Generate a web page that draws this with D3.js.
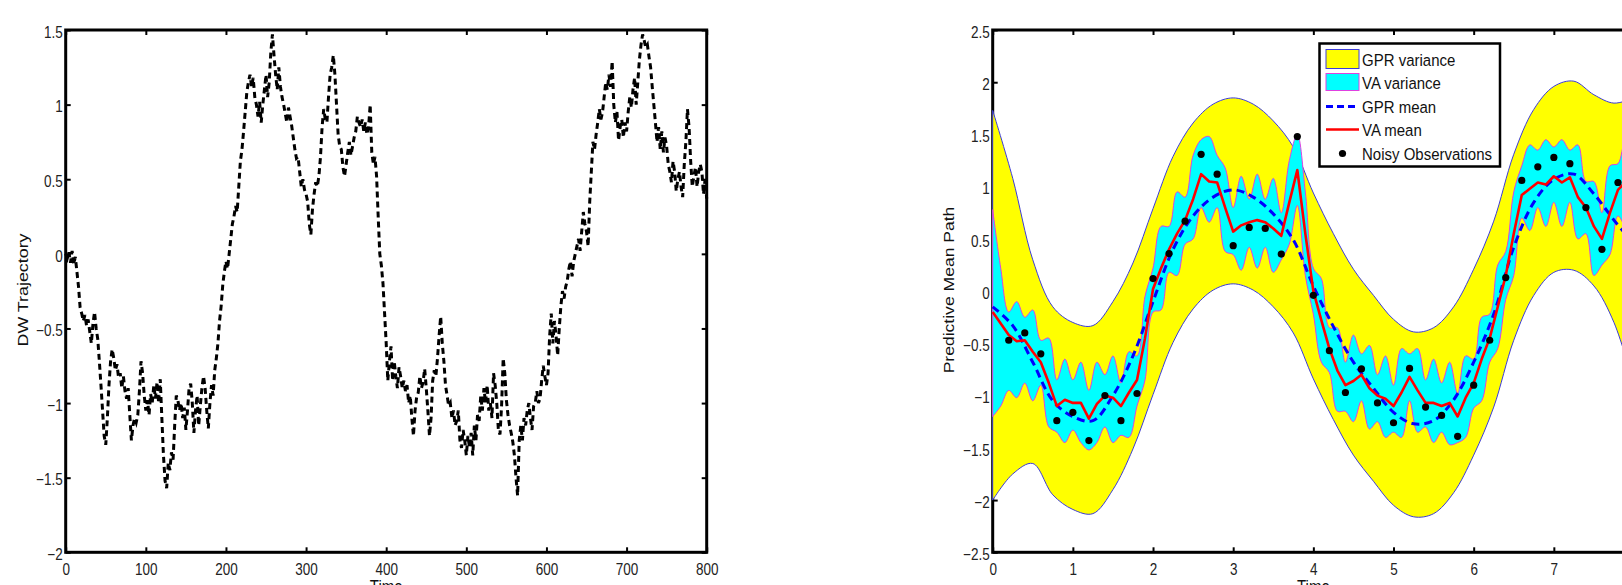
<!DOCTYPE html>
<html>
<head>
<meta charset="utf-8">
<script src="https://cdn.jsdelivr.net/npm/d3@7"></script>
<style>
  body { margin: 0; background: #fff; overflow: hidden; }
  svg { display: block; }
</style>
</head>
<body>
<svg></svg>
<script>
// ---------- left panel: DW trajectory (one value every 2 time units) ----------
const dwStep = 2;
const dwValues = [
  0.00, -0.03, 0.01, -0.06, 0.02, -0.07, -0.02, -0.12, -0.22, -0.36,
  -0.40, -0.45, -0.41, -0.48, -0.44, -0.52, -0.60, -0.47, -0.39, -0.50,
  -0.57, -0.72, -0.88, -1.05, -1.22, -1.28, -1.10, -0.88, -0.72, -0.64,
  -0.70, -0.78, -0.74, -0.83, -0.80, -0.90, -0.82, -0.92, -0.97, -0.90,
  -1.08, -1.25, -1.15, -1.10, -1.13, -1.08, -0.92, -0.72, -0.80, -0.95,
  -1.05, -0.98, -1.08, -0.94, -1.00, -0.88, -0.97, -0.86, -1.00, -0.84,
  -1.10, -1.35, -1.52, -1.57, -1.40, -1.45, -1.33, -1.38, -1.15, -0.95,
  -0.98, -1.05, -1.00, -1.10, -1.03, -1.18, -1.05, -0.90, -0.87, -1.00,
  -1.20, -1.05, -0.95, -1.15, -1.02, -0.90, -0.82, -0.90, -1.05, -1.17,
  -1.00, -0.88, -0.95, -0.78, -0.70, -0.60, -0.45, -0.35, -0.21, -0.12,
  -0.05, -0.10, 0.00, 0.10, 0.20, 0.25, 0.32, 0.28, 0.45, 0.62,
  0.70, 0.82, 0.95, 1.08, 1.15, 1.20, 1.12, 1.18, 1.05, 1.00,
  0.92, 1.02, 0.88, 1.00, 1.10, 1.20, 1.05, 1.15, 1.35, 1.47,
  1.33, 1.20, 1.10, 1.25, 1.12, 1.05, 1.00, 0.94, 0.88, 0.98,
  0.92, 0.86, 0.78, 0.70, 0.64, 0.65, 0.55, 0.45, 0.50, 0.43,
  0.40, 0.35, 0.20, 0.13, 0.30, 0.40, 0.48, 0.45, 0.52, 0.65,
  0.85, 0.97, 0.90, 0.88, 1.05, 1.20, 1.25, 1.33, 1.20, 1.00,
  0.80, 0.72, 0.70, 0.58, 0.52, 0.60, 0.68, 0.75, 0.66, 0.72,
  0.78, 0.82, 0.92, 0.88, 0.85, 0.90, 0.82, 0.88, 0.80, 0.85,
  1.00, 0.68, 0.60, 0.65, 0.52, 0.25, 0.00, -0.08, -0.20, -0.40,
  -0.60, -0.85, -0.72, -0.62, -0.85, -0.72, -0.82, -0.90, -0.76, -0.82,
  -0.90, -0.85, -0.92, -0.88, -1.00, -0.95, -1.10, -1.22, -1.05, -0.96,
  -0.93, -0.82, -0.90, -0.86, -0.77, -0.90, -1.05, -1.22, -1.10, -0.85,
  -0.78, -0.82, -0.70, -0.55, -0.42, -0.60, -0.72, -0.88, -0.95, -1.02,
  -1.00, -1.10, -1.05, -1.15, -1.12, -1.05, -1.25, -1.30, -1.18, -1.25,
  -1.35, -1.22, -1.30, -1.20, -1.35, -1.15, -1.25, -1.08, -1.12, -0.95,
  -1.05, -0.90, -1.00, -0.88, -1.05, -1.00, -1.10, -0.80, -0.88, -1.00,
  -1.18, -1.21, -1.02, -0.70, -0.80, -0.98, -1.08, -1.15, -1.20, -1.26,
  -1.35, -1.50, -1.62, -1.25, -1.15, -1.25, -1.10, -1.15, -1.05, -1.00,
  -1.10, -1.18, -1.02, -1.00, -0.92, -1.00, -0.97, -0.85, -0.75, -0.82,
  -0.88, -0.80, -0.55, -0.40, -0.60, -0.45, -0.55, -0.68, -0.50, -0.35,
  -0.25, -0.30, -0.22, -0.18, -0.10, -0.05, -0.15, -0.05, 0.00, 0.05,
  0.10, 0.02, 0.15, 0.28, 0.20, 0.15, 0.05, 0.35, 0.55, 0.75,
  0.70, 0.80, 0.88, 0.97, 0.90, 0.95, 1.05, 1.15, 1.10, 1.20,
  1.12, 1.29, 1.00, 0.88, 0.95, 0.76, 0.85, 0.90, 0.78, 0.88,
  0.82, 0.95, 1.05, 0.98, 1.10, 1.18, 1.00, 1.15, 1.30, 1.40,
  1.47, 1.43, 1.38, 1.40, 1.32, 1.25, 1.12, 1.00, 0.88, 0.75,
  0.85, 0.70, 0.82, 0.68, 0.78, 0.72, 0.60, 0.55, 0.48, 0.62,
  0.55, 0.42, 0.50, 0.55, 0.45, 0.38, 0.60, 0.75, 0.97, 0.85,
  0.62, 0.45, 0.52, 0.58, 0.45, 0.55, 0.60, 0.55, 0.40, 0.50,
  0.37
];
const dwXTicks = [0, 100, 200, 300, 400, 500, 600, 700, 800];
const dwYTicks = [-2, -1.5, -1, -0.5, 0, 0.5, 1, 1.5];

// ---------- right panel: GPR vs VA ----------
const gprStep = 0.25;
const gprMean  = [-0.15, -0.33, -0.68, -1.05, -1.20, -1.24, -1.00, -0.62, -0.10, 0.40, 0.72, 0.90, 0.97, 0.90, 0.74, 0.49, 0.05,
                  -0.34, -0.68, -0.93, -1.16, -1.27, -1.24, -1.04, -0.68, -0.22, 0.42, 0.85, 1.07, 1.12, 0.93, 0.68, 0.45];
const gprUpper = [1.73, 1.08, 0.30, -0.15, -0.30, -0.33, -0.10, 0.27, 0.79, 1.29, 1.61, 1.79, 1.85, 1.79, 1.63, 1.38, 0.94,
                  0.55, 0.21, -0.04, -0.27, -0.39, -0.35, -0.15, 0.21, 0.67, 1.31, 1.74, 1.96, 2.01, 1.88, 1.80, 1.85];
const gprLower = [-2.00, -1.75, -1.65, -1.95, -2.09, -2.13, -1.90, -1.51, -0.99, -0.49, -0.17, 0.01, 0.07, 0.01, -0.15, -0.40, -0.84,
                  -1.23, -1.57, -1.82, -2.05, -2.16, -2.13, -1.93, -1.57, -1.11, -0.47, -0.04, 0.18, 0.20, 0.05, -0.30, -0.90];

const vaStep = 0.1;
const vaMean = [
  -0.20, -0.31, -0.42, -0.48, -0.47, -0.58, -0.68, -0.88, -1.10, -1.04,
  -1.07, -1.07, -1.22, -1.08, -1.00, -1.02, -1.10, -0.97, -0.85, -0.45,
  0.02, 0.22, 0.40, 0.55, 0.68, 0.88, 1.12, 1.05, 1.04, 0.80,
  0.57, 0.63, 0.66, 0.68, 0.66, 0.60, 0.53, 0.85, 1.16, 0.55,
  0.00, -0.28, -0.55, -0.76, -0.90, -0.86, -0.80, -0.93, -1.00, -1.03,
  -1.10, -0.97, -0.82, -0.95, -1.07, -1.07, -1.10, -1.07, -1.20, -1.02,
  -0.88, -0.65, -0.45, -0.15, 0.15, 0.55, 0.92, 0.98, 1.04, 1.02,
  1.10, 1.04, 1.09, 0.90, 0.80, 0.62, 0.50, 0.75, 0.97, 1.05,
  1.05
];
const vaUpper = [
  0.78, 0.22, -0.20, -0.10, -0.25, -0.18, -0.47, -0.45, -0.85, -0.65,
  -0.85, -0.68, -0.95, -0.68, -0.80, -0.62, -0.88, -0.58, -0.62, -0.05,
  0.22, 0.62, 0.62, 0.95, 0.90, 1.30, 1.45, 1.48, 1.30, 1.18,
  0.80, 1.10, 0.88, 1.12, 0.88, 1.08, 0.75, 1.25, 1.50, 0.95,
  0.22, 0.12, -0.35, -0.35, -0.68, -0.42, -0.60, -0.52, -0.80, -0.62,
  -0.90, -0.55, -0.60, -0.55, -0.85, -0.65, -0.88, -0.68, -0.98, -0.62,
  -0.65, -0.25, -0.22, 0.25, 0.38, 0.95, 1.20, 1.40, 1.35, 1.45,
  1.38, 1.45, 1.35, 1.40, 1.05, 1.05, 0.75, 1.20, 1.22, 1.45,
  1.45
];
const vaLower = [
  -1.20, -1.10, -0.95, -1.02, -0.88, -1.05, -0.90, -1.30, -1.35, -1.45,
  -1.33, -1.45, -1.52, -1.45, -1.30, -1.45, -1.38, -1.40, -1.10, -0.85,
  -0.20, -0.18, 0.18, 0.15, 0.45, 0.50, 0.80, 0.66, 0.80, 0.38,
  0.35, 0.20, 0.42, 0.22, 0.42, 0.18, 0.30, 0.45, 0.82, 0.15,
  -0.22, -0.68, -0.78, -1.15, -1.15, -1.25, -1.05, -1.32, -1.25, -1.40,
  -1.35, -1.40, -1.05, -1.35, -1.30, -1.45, -1.35, -1.47, -1.45, -1.40,
  -1.12, -1.05, -0.68, -0.55, -0.08, 0.15, 0.70, 0.58, 0.80, 0.62,
  0.85, 0.62, 0.85, 0.50, 0.55, 0.15, 0.25, 0.35, 0.72, 0.62,
  0.65
];

const obsTime  = [0.2, 0.4, 0.6, 0.8, 1.0, 1.2, 1.4, 1.6, 1.8, 2.0, 2.2, 2.4, 2.6, 2.8, 3.0, 3.2, 3.4, 3.6, 3.8, 4.0,
                  4.2, 4.4, 4.6, 4.8, 5.0, 5.2, 5.4, 5.6, 5.8, 6.0, 6.2, 6.4, 6.6, 6.8, 7.0, 7.2, 7.4, 7.6, 7.8];
const obsValue = [-0.47, -0.40, -0.60, -1.24, -1.16, -1.43, -1.00, -1.24, -0.98, 0.12, 0.36, 0.67, 1.31, 1.12, 0.435, 0.61, 0.60, 0.355, 1.48, -0.04,
                  -0.57, -0.97, -0.745, -1.07, -1.26, -0.74, -1.11, -1.19, -1.39, -0.90, -0.47, 0.13, 1.06, 1.19, 1.28, 1.22, 0.80, 0.40, 1.04];

// x runs to 8, but the figure is cropped just before t = 8
const predXTicks = [0, 1, 2, 3, 4, 5, 6, 7];
const predYTicks = [-2.5, -2, -1.5, -1, -0.5, 0, 0.5, 1, 1.5, 2, 2.5];
const legendLabels = ["GPR variance", "VA variance", "GPR mean", "VA mean", "Noisy Observations"];

// ---------- drawing ----------
const FONT = "'Liberation Sans', Arial, Helvetica, sans-serif";
const svg = d3.select("svg").attr("width", 1622).attr("height", 585);

const fmt = v => (v < 0 ? "\u2212" : "") + Math.abs(v);

// MATLAB-like box with inward ticks on all four sides; drawn under the data
function drawAxes(x, y, xTicks, yTicks) {
  const [xa, xb] = x.range();
  const [yb, ya] = y.range();
  const g = svg.append("g");

  g.append("g").attr("transform", `translate(0,${yb})`)
    .call(d3.axisBottom(x).tickValues(xTicks).tickSize(-5).tickSizeOuter(0).tickPadding(9).tickFormat(fmt))
    .selectAll("text").attr("transform", "scale(1,1.2)");
  g.append("g").attr("transform", `translate(${xa},0)`)
    .call(d3.axisLeft(y).tickValues(yTicks).tickSize(-5).tickSizeOuter(0).tickPadding(3).tickFormat(fmt))
    .selectAll("text").attr("dy", "0.45em").attr("transform", "scale(1,1.2)");
  g.append("g").attr("transform", `translate(0,${ya})`)
    .call(d3.axisTop(x).tickValues(xTicks).tickSize(-5).tickSizeOuter(0).tickFormat(""));
  g.append("g").attr("transform", `translate(${xb},0)`)
    .call(d3.axisRight(y).tickValues(yTicks).tickSize(-5).tickSizeOuter(0).tickFormat(""));

  g.selectAll(".domain").remove();
  g.selectAll(".tick line").attr("stroke", "#000").attr("stroke-width", 2);
  g.selectAll(".tick text").attr("fill", "#222").attr("font-size", 13.5).attr("font-family", FONT);

  g.append("rect")
    .attr("x", xa).attr("y", ya).attr("width", xb - xa).attr("height", yb - ya)
    .attr("fill", "none").attr("stroke", "#000").attr("stroke-width", 3);
}

function stretchedText(txt, x, y, size, transform, anchor) {
  svg.append("text")
    .attr("transform", `translate(${x},${y}) ${transform}`)
    .attr("text-anchor", anchor || "middle")
    .attr("font-family", FONT).attr("font-size", size).attr("fill", "#111")
    .text(txt);
}

// ----- left panel -----
const xL = d3.scaleLinear().domain([0, 800]).range([65.7, 706.7]);
const yL = d3.scaleLinear().domain([-2, 1.5]).range([552.3, 30]);
drawAxes(xL, yL, dwXTicks, dwYTicks);

svg.append("path")
  .datum(dwValues)
  .attr("fill", "none").attr("stroke", "#000").attr("stroke-width", 3)
  .attr("stroke-dasharray", "6,4")
  .attr("d", d3.line().x((d, i) => xL(i * dwStep)).y(d => yL(d)));

stretchedText("DW Trajectory", 28, 290, 15.4, "rotate(-90) scale(1.16,1)");
stretchedText("Time", (xL.range()[0] + xL.range()[1]) / 2, 593, 15, "scale(1,1.2)");

// ----- right panel -----
const xR = d3.scaleLinear().domain([0, 8]).range([992.7, 1634]);
const yR = d3.scaleLinear().domain([-2.5, 2.5]).range([552.3, 30]);
drawAxes(xR, yR, predXTicks, predYTicks);

const gprRows = gprMean.map((m, i) => ({t: i * gprStep, m, hi: gprUpper[i], lo: gprLower[i]}));
const vaRows = vaMean.map((m, i) => ({t: i * vaStep, m, hi: vaUpper[i], lo: vaLower[i]}));

svg.append("path")
  .datum(gprRows)
  .attr("fill", "#ffff00").attr("stroke", "#3c3cd8").attr("stroke-width", 1)
  .attr("d", d3.area().curve(d3.curveCatmullRom)
    .x(d => xR(d.t)).y0(d => yR(d.lo)).y1(d => yR(d.hi)));

svg.append("path")
  .datum(vaRows)
  .attr("fill", "#00ffff").attr("stroke", "#e040e0").attr("stroke-width", 1)
  .attr("d", d3.area().curve(d3.curveCatmullRom)
    .x(d => xR(d.t)).y0(d => yR(d.lo)).y1(d => yR(d.hi)));

svg.append("path")
  .datum(gprRows)
  .attr("fill", "none").attr("stroke", "#0000ff").attr("stroke-width", 3)
  .attr("stroke-dasharray", "8,5")
  .attr("d", d3.line().curve(d3.curveCatmullRom).x(d => xR(d.t)).y(d => yR(d.m)));

svg.append("path")
  .datum(vaRows)
  .attr("fill", "none").attr("stroke", "#ff0000").attr("stroke-width", 2.6)
  .attr("stroke-linejoin", "round")
  .attr("d", d3.line().x(d => xR(d.t)).y(d => yR(d.m)));

svg.append("g").selectAll("circle")
  .data(obsTime)
  .join("circle")
  .attr("cx", d => xR(d)).attr("cy", (d, i) => yR(obsValue[i]))
  .attr("r", 3.6).attr("fill", "#000");

stretchedText("Predictive Mean Path", 954, 290, 15.4, "rotate(-90) scale(1.14,1)");
stretchedText("Time", (992.7 + 1634) / 2, 593, 15, "scale(1,1.2)");

// ----- legend -----
const lg = svg.append("g");
lg.append("rect").attr("x", 1319.5).attr("y", 43.5).attr("width", 180.5).attr("height", 123)
  .attr("fill", "#fff").attr("stroke", "#000").attr("stroke-width", 2.5);
const rowY = [59.5, 82.5, 106.5, 129.5, 153.5];
const sw0 = 1326, sw1 = 1359;

lg.append("rect").attr("x", sw0).attr("y", 49.5).attr("width", sw1 - sw0).attr("height", 19)
  .attr("fill", "#ffff00").attr("stroke", "#3c3cd8").attr("stroke-width", 1);
lg.append("rect").attr("x", sw0).attr("y", 73.5).attr("width", sw1 - sw0).attr("height", 17)
  .attr("fill", "#00ffff").attr("stroke", "#e040e0").attr("stroke-width", 1);
lg.append("line").attr("x1", sw0).attr("x2", sw1).attr("y1", rowY[2]).attr("y2", rowY[2])
  .attr("stroke", "#0000ff").attr("stroke-width", 3).attr("stroke-dasharray", "7,4");
lg.append("line").attr("x1", sw0).attr("x2", sw1).attr("y1", rowY[3]).attr("y2", rowY[3])
  .attr("stroke", "#ff0000").attr("stroke-width", 2.6);
lg.append("circle").attr("cx", (sw0 + sw1) / 2).attr("cy", rowY[4]).attr("r", 3.6).attr("fill", "#000");

legendLabels.forEach((label, i) => {
  stretchedText(label, 1362, rowY[i] + 6.2, 15, "scale(1,1.15)", "start");
});
</script>
</body>
</html>
